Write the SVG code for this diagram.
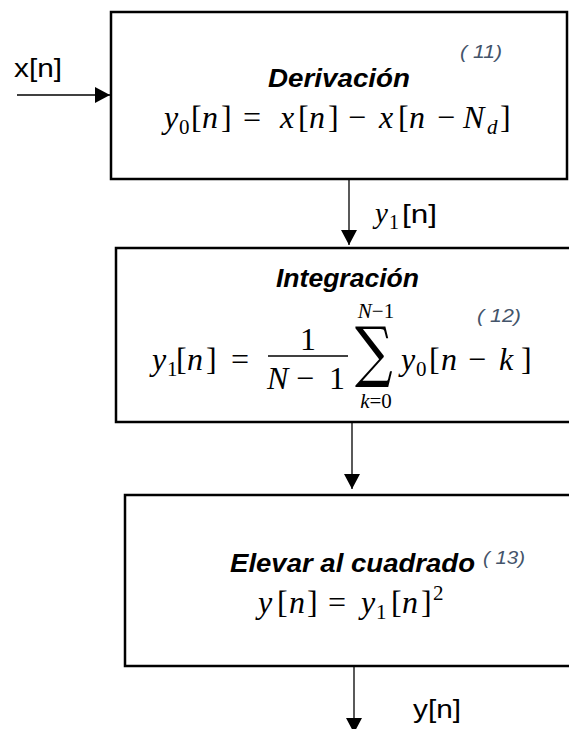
<svg xmlns="http://www.w3.org/2000/svg" width="569" height="729" viewBox="0 0 569 729">
<style>
.box{fill:#fff;stroke:#000;stroke-width:2.5}
.con{fill:none;stroke:#000;stroke-width:1.3}
.m{font-family:"Liberation Serif","DejaVu Serif",serif;font-size:32px;fill:#000}
.i{font-style:italic}
.s{font-size:21px}
.t{font-family:"Liberation Sans",Arial,sans-serif;font-size:25px;font-weight:bold;font-style:italic;fill:#000}
.ref{font-family:"Liberation Sans",Arial,sans-serif;font-size:19px;font-style:italic;fill:#44546A}
.lbl{font-family:"Liberation Sans",Arial,sans-serif;font-size:26px;fill:#000}
.sig{font-family:"DejaVu Serif",serif;font-size:66px;fill:#000}
</style>
<defs>
<marker id="ah" markerUnits="userSpaceOnUse" markerWidth="15" markerHeight="16" refX="15" refY="8" orient="auto">
<path d="M0,0 L15,8 L0,16 z" fill="#000"/>
</marker>
</defs>
<g id="connectors">
<line class="con" x1="17" y1="95" x2="110" y2="95" marker-end="url(#ah)"/>
<line class="con" x1="349" y1="180" x2="349" y2="245" marker-end="url(#ah)"/>
<line class="con" x1="352" y1="423" x2="352" y2="489" marker-end="url(#ah)"/>
<line class="con" x1="354" y1="667" x2="354" y2="733" marker-end="url(#ah)"/>
</g>
<g id="label-x"><text class="lbl" x="14" y="77" textLength="48" lengthAdjust="spacingAndGlyphs">x[n]</text></g>
<g id="label-y1">
<text class="m" y="223"><tspan class="i" x="375" style="font-size:29px">y</tspan><tspan x="389" y="229" style="font-size:20px">1</tspan></text>
<text class="lbl" x="402" y="223" textLength="35" lengthAdjust="spacingAndGlyphs">[n]</text>
</g>
<g id="label-y"><text class="lbl" x="413" y="718" textLength="48" lengthAdjust="spacingAndGlyphs">y[n]</text></g>
<g id="derivacion">
<rect class="box" x="111" y="12" width="456" height="167"/>
<text class="ref" x="460" y="58" textLength="42" lengthAdjust="spacingAndGlyphs">( 11)</text>
<text class="t" x="268" y="87" textLength="142" lengthAdjust="spacingAndGlyphs">Derivación</text>
<text class="m" y="128"><tspan class="i" x="164">y</tspan><tspan class="s" x="179" y="134">0</tspan><tspan x="191" y="128">[</tspan><tspan class="i" x="202">n</tspan><tspan x="221">]</tspan><tspan x="243">=</tspan><tspan class="i" x="280">x</tspan><tspan x="298">[</tspan><tspan class="i" x="309">n</tspan><tspan x="328">]</tspan><tspan x="348">−</tspan><tspan class="i" x="379">x</tspan><tspan x="398">[</tspan><tspan class="i" x="409">n</tspan><tspan x="437">−</tspan><tspan class="i" x="463">N</tspan><tspan class="i s" x="487" y="134">d</tspan><tspan x="500" y="128">]</tspan></text>
</g>
<g id="integracion">
<rect class="box" x="116" y="248" width="460" height="174"/>
<text class="t" x="276" y="287" textLength="143" lengthAdjust="spacingAndGlyphs">Integración</text>
<text class="ref" x="477" y="322" textLength="44" lengthAdjust="spacingAndGlyphs">( 12)</text>
<text class="m" y="370"><tspan class="i" x="152">y</tspan><tspan class="s" x="167" y="376">1</tspan><tspan x="176" y="370">[</tspan><tspan class="i" x="187">n</tspan><tspan x="206">]</tspan><tspan x="231">=</tspan></text>
<text class="m" x="308" y="350" text-anchor="middle">1</text>
<line x1="268" y1="356" x2="348" y2="356" stroke="#000" stroke-width="1.5"/>
<text class="m" y="389"><tspan class="i" x="267">N</tspan><tspan x="296">−</tspan><tspan x="329">1</tspan></text>
<text class="sig" transform="translate(355,374) scale(0.8,1)">∑</text>
<text class="m s" x="376" y="318" text-anchor="middle"><tspan class="i">N</tspan>−1</text>
<text class="m s" x="376" y="408" text-anchor="middle"><tspan class="i">k</tspan>=0</text>
<text class="m" y="370"><tspan class="i" x="401">y</tspan><tspan class="s" x="416" y="376">0</tspan><tspan x="429" y="370">[</tspan><tspan class="i" x="441">n</tspan><tspan x="468">−</tspan><tspan class="i" x="499">k</tspan><tspan x="521">]</tspan></text>
</g>
<g id="cuadrado">
<rect class="box" x="125" y="495" width="450" height="171"/>
<text class="t" x="230" y="572" textLength="245" lengthAdjust="spacingAndGlyphs">Elevar al cuadrado</text>
<text class="ref" x="483" y="564" textLength="42" lengthAdjust="spacingAndGlyphs">( 13)</text>
<text class="m" y="613"><tspan class="i" x="258">y</tspan><tspan x="277">[</tspan><tspan class="i" x="289">n</tspan><tspan x="307">]</tspan><tspan x="328">=</tspan><tspan class="i" x="361">y</tspan><tspan class="s" x="376" y="619">1</tspan><tspan x="391" y="613">[</tspan><tspan class="i" x="402">n</tspan><tspan x="421">]</tspan><tspan class="s" x="433" y="600">2</tspan></text>
</g>
</svg>
